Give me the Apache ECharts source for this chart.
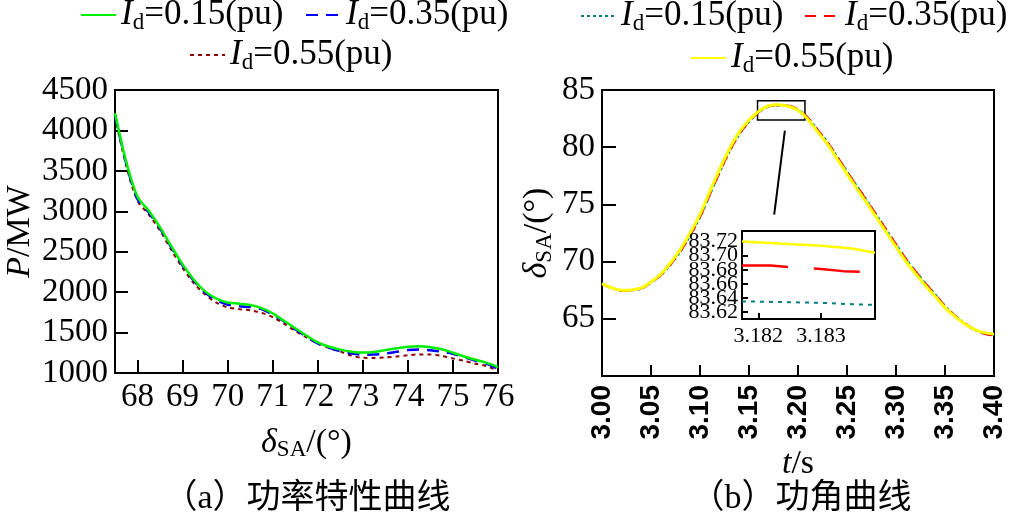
<!DOCTYPE html>
<html><head><meta charset="utf-8">
<script src="https://cdn.jsdelivr.net/npm/echarts@6/dist/echarts.min.js"></script>
<style>html,body{margin:0;padding:0;background:#fff}#c{width:1010px;height:519px}</style>
</head><body><div id="c"></div>
<script>
// ---------- (a) power characteristic ----------
const deltaSA = [67.5, 67.75, 68, 68.25, 68.5, 68.75, 69, 69.25, 69.5, 69.75, 70, 70.25, 70.5, 70.75, 71, 71.25, 71.5, 71.75, 72, 72.25, 72.5, 72.75, 73, 73.25, 73.5, 73.75, 74, 74.25, 74.5, 74.75, 75, 75.25, 75.5, 75.75, 76];
const P015 = [4214, 3610, 3179, 3008, 2802, 2569, 2343, 2154, 2010, 1920, 1873, 1857, 1840, 1803, 1738, 1646, 1554, 1463, 1378, 1324, 1289, 1264, 1252, 1260, 1283, 1306, 1326, 1331, 1318, 1293, 1251, 1204, 1163, 1125, 1074];
const P035 = [4190, 3590, 3150, 2985, 2785, 2555, 2330, 2140, 1995, 1900, 1845, 1825, 1815, 1790, 1720, 1640, 1540, 1450, 1365, 1310, 1270, 1240, 1226, 1228, 1240, 1262, 1283, 1290, 1282, 1262, 1238, 1195, 1150, 1113, 1053];
const P055 = [4170, 3560, 3130, 2960, 2760, 2520, 2300, 2110, 1970, 1870, 1810, 1790, 1775, 1745, 1690, 1610, 1520, 1440, 1370, 1310, 1265, 1215, 1188, 1185, 1192, 1205, 1220, 1230, 1230, 1210, 1180, 1150, 1115, 1085, 1030];
const deltaTicks = [68, 69, 70, 71, 72, 73, 74, 75, 76];

// ---------- (b) power angle ----------
const tSec = [3.00, 3.01, 3.02, 3.03, 3.04, 3.05, 3.06, 3.07, 3.08, 3.09, 3.10, 3.11, 3.12, 3.13, 3.14, 3.15, 3.16, 3.17, 3.18, 3.19, 3.20, 3.21, 3.22, 3.23, 3.24, 3.25, 3.26, 3.27, 3.28, 3.29, 3.30, 3.31, 3.32, 3.33, 3.34, 3.35, 3.36, 3.37, 3.38, 3.39, 3.40];
const D015 = [68.06, 67.70, 67.47, 67.50, 67.65, 68.17, 68.81, 69.76, 70.90, 72.30, 73.89, 75.87, 77.82, 79.63, 81.13, 82.24, 83.05, 83.55, 83.65, 83.59, 83.29, 82.56, 81.51, 80.43, 79.16, 77.87, 76.59, 75.35, 74.07, 72.78, 71.50, 70.23, 69.13, 68.09, 67.11, 66.11, 65.29, 64.61, 64.06, 63.72, 63.58];
const D035 = [68.06, 67.70, 67.47, 67.50, 67.66, 68.18, 68.82, 69.78, 70.92, 72.33, 73.92, 75.90, 77.85, 79.66, 81.16, 82.27, 83.08, 83.58, 83.69, 83.62, 83.30, 82.56, 81.50, 80.42, 79.14, 77.85, 76.57, 75.33, 74.05, 72.76, 71.48, 70.22, 69.12, 68.08, 67.10, 66.10, 65.28, 64.60, 64.05, 63.71, 63.57];
const D055 = [68.08, 67.71, 67.49, 67.52, 67.70, 68.23, 68.91, 69.90, 71.07, 72.51, 74.13, 76.12, 78.06, 79.84, 81.31, 82.37, 83.14, 83.62, 83.72, 83.58, 83.22, 82.44, 81.35, 80.26, 78.97, 77.67, 76.39, 75.15, 73.86, 72.57, 71.29, 70.03, 68.94, 67.92, 66.96, 65.98, 65.21, 64.57, 64.07, 63.79, 63.66];
const tTicks = [3.00, 3.05, 3.10, 3.15, 3.20, 3.25, 3.30, 3.35, 3.40];
const dTicks = [65, 70, 75, 80, 85];

// ---------- inset (zoom of the peak) ----------
const tZoom = [3.18174, 3.1824, 3.1830, 3.1835, 3.18386];
const Z015 = [83.635, 83.634, 83.633, 83.631, 83.630];
const Z055 = [83.720, 83.717, 83.714, 83.710, 83.704];
const tZoomRed = [3.18174, 3.1822, 3.1826, 3.1830, 3.18335, 3.18386];
const Z035 = [83.686, 83.686, 83.683, 83.681, 83.678, 83.676];
const zoomTTicks = [3.182, 3.183];
const zoomDTicksA = [83.62, 83.66, 83.70];
const zoomDTicksB = [83.64, 83.68, 83.72];
const zoomBox = [[3.1587, 84.06], [3.2071, 82.38]];
const zoomLink = [[3.1866, 81.44], [3.1757, 74.10]];

const idLabels = ['0.15', '0.35', '0.55'];

const SERIF = 'Liberation Serif';
const pair = (xs, ys) => xs.map((x, i) => [x, ys[i]]);

const legRich = {
  i: {fontFamily: SERIF, fontStyle: 'italic', fontSize: 35, lineHeight: 38, color: '#000'},
  s: {fontFamily: SERIF, fontSize: 23, lineHeight: 23, padding: [23, 0, 0, 0], verticalAlign: 'bottom', color: '#000'},
  t: {fontFamily: SERIF, fontSize: 35, lineHeight: 38, color: '#000'}
};
function legFmt(name) { return '{i|I}{s|d}{t|=' + idLabels[+name[1]] + '(pu)}'; }
function mkLegend(name, left, top) {
  return {data: [name], left: left, top: top, padding: 0, itemWidth: 35, itemHeight: 14, itemGap: 0,
    selectedMode: false, formatter: legFmt, textStyle: {rich: legRich},
    itemStyle: {opacity: 0, borderWidth: 0}};
}
const nameRich = {
  d: {fontFamily: SERIF, fontStyle: 'italic', fontSize: 34, lineHeight: 38, color: '#000'},
  i: {fontFamily: SERIF, fontStyle: 'italic', fontSize: 34, lineHeight: 38, color: '#000'},
  s: {fontFamily: SERIF, fontSize: 23, lineHeight: 23, padding: [20, 0, 0, 0], verticalAlign: 'bottom', color: '#000'},
  n: {fontFamily: SERIF, fontSize: 34, lineHeight: 38, color: '#000'}
};
const axLine = {show: true, onZero: false, lineStyle: {color: '#000', width: 2}};
function insetY(ticks, showLine) {
  return {gridIndex: 2, type: 'value', position: 'left', min: 83.61, max: 83.735, z: 5,
    axisLine: showLine ? axLine : {show: false}, splitLine: {show: false},
    axisTick: {inside: true, length: 6, lineStyle: {color: '#000', width: 2}, customValues: ticks},
    axisLabel: {customValues: ticks, showMinLabel: true, showMaxLabel: true, hideOverlap: false,
      fontSize: 22, color: '#000', fontFamily: SERIF, margin: 4, formatter: v => v.toFixed(2)}};
}

const option = {
  backgroundColor: '#fff',
  animation: false,
  textStyle: {fontFamily: SERIF},
  legend: [
    mkLegend('a0', 80, -12), mkLegend('a1', 305, -12), mkLegend('a2', 189, 28),
    mkLegend('b0', 580, -11), mkLegend('b1', 804, -11), mkLegend('b2', 690, 31)
  ],
  grid: [
    {left: 115, top: 90, width: 383, height: 283, show: true, borderColor: '#000', borderWidth: 2, backgroundColor: '#fff'},
    {left: 602, top: 90, width: 392, height: 286, show: true, borderColor: '#000', borderWidth: 2, backgroundColor: '#fff'},
    {left: 742, top: 231, width: 133, height: 88, show: true, borderColor: '#000', borderWidth: 2, backgroundColor: '#fff', z: 5}
  ],
  xAxis: [
    {gridIndex: 0, type: 'value', min: 67.5, max: 76, axisLine: axLine, splitLine: {show: false},
      axisTick: {inside: true, length: 13, lineStyle: {color: '#000', width: 2}, customValues: deltaTicks},
      axisLabel: {customValues: deltaTicks, fontSize: 33, color: '#000', fontFamily: SERIF, margin: 8},
      name: '{d|δ}{s|SA}{n|/(°)}', nameLocation: 'middle', nameGap: 48, nameTextStyle: {rich: nameRich}},
    {gridIndex: 1, type: 'value', min: 3.0, max: 3.4, axisLine: axLine, splitLine: {show: false},
      axisTick: {inside: true, length: 11, lineStyle: {color: '#000', width: 2}, customValues: tTicks},
      axisLabel: {customValues: tTicks, rotate: 90, fontSize: 28, fontWeight: 'bold', color: '#000', fontFamily: 'Liberation Sans', margin: 9,
        formatter: v => v.toFixed(2)},
      name: '{i|t}{n|/s}', nameLocation: 'middle', nameGap: 62, nameTextStyle: {rich: nameRich}},
    {gridIndex: 2, type: 'value', min: 3.18174, max: 3.18386, axisLine: axLine, splitLine: {show: false}, z: 5,
      axisTick: {inside: true, length: 6, lineStyle: {color: '#000', width: 2}, customValues: zoomTTicks},
      axisLabel: {customValues: zoomTTicks, fontSize: 22, color: '#000', fontFamily: SERIF, margin: 6,
        formatter: v => v.toFixed(3)}}
  ],
  yAxis: [
    {gridIndex: 0, type: 'value', min: 1000, max: 4500, interval: 500, axisLine: axLine, splitLine: {show: false},
      axisTick: {inside: true, length: 13, lineStyle: {color: '#000', width: 2}},
      axisLabel: {fontSize: 33, color: '#000', fontFamily: SERIF, margin: 7, formatter: v => String(v)},
      name: '{i|P}{n|/MW}', nameLocation: 'middle', nameGap: 76, nameTextStyle: {rich: nameRich}},
    {gridIndex: 1, type: 'value', min: 60, max: 85, axisLine: axLine, splitLine: {show: false},
      axisTick: {inside: true, length: 14, lineStyle: {color: '#000', width: 2}, customValues: dTicks},
      axisLabel: {customValues: dTicks, fontSize: 33, color: '#000', fontFamily: SERIF, margin: 7},
      name: '{d|δ}{s|SA}{n|/(°)}', nameLocation: 'middle', nameGap: 46, nameTextStyle: {rich: nameRich}},
    insetY(zoomDTicksA, true),
    insetY(zoomDTicksB, false)
  ],
  series: [
    {name: 'a0', type: 'line', xAxisIndex: 0, yAxisIndex: 0, data: pair(deltaSA, P015), smooth: 0.3, symbol: 'none', z: 4,
      color: '#00ee00', lineStyle: {color: '#00ee00', width: 2.5}},
    {name: 'a1', type: 'line', xAxisIndex: 0, yAxisIndex: 0, data: pair(deltaSA, P035), smooth: 0.3, symbol: 'none', z: 3,
      color: '#0000ff', lineStyle: {color: '#0000ff', width: 2.5, type: [12, 8]}},
    {name: 'a2', type: 'line', xAxisIndex: 0, yAxisIndex: 0, data: pair(deltaSA, P055), smooth: 0.3, symbol: 'none', z: 2,
      color: '#8b0000', lineStyle: {color: '#8b0000', width: 2, type: [4, 4]}},
    {name: 'b0', type: 'line', xAxisIndex: 1, yAxisIndex: 1, data: pair(tSec, D015), smooth: 0.3, symbol: 'none', z: 2,
      color: '#008080', lineStyle: {color: '#008080', width: 2.5, type: [3, 3]}},
    {name: 'b1', type: 'line', xAxisIndex: 1, yAxisIndex: 1, data: pair(tSec, D035), smooth: 0.3, symbol: 'none', z: 3,
      color: '#ff0000', lineStyle: {color: '#ff0000', width: 2.5, type: [11, 8]}},
    {name: 'b2', type: 'line', xAxisIndex: 1, yAxisIndex: 1, data: pair(tSec, D055), smooth: 0.3, symbol: 'none', z: 4,
      color: '#ffff00', lineStyle: {color: '#ffff00', width: 3},
      markArea: {silent: true, itemStyle: {color: 'rgba(0,0,0,0)', borderColor: '#000', borderWidth: 1.5},
        data: [[{coord: zoomBox[0]}, {coord: zoomBox[1]}]]},
      markLine: {silent: true, symbol: ['none', 'none'], label: {show: false},
        lineStyle: {color: '#000', width: 2, type: 'solid'},
        data: [[{coord: zoomLink[0]}, {coord: zoomLink[1]}]]}},
    {name: 'z0', type: 'line', xAxisIndex: 2, yAxisIndex: 2, data: pair(tZoom, Z015), symbol: 'none', z: 6,
      lineStyle: {color: '#008080', width: 2, type: [4, 5]}},
    {name: 'z1', type: 'line', xAxisIndex: 2, yAxisIndex: 2, data: pair(tZoomRed, Z035), symbol: 'none', z: 6,
      lineStyle: {color: '#ff0000', width: 2.5, type: [46, 26]}},
    {name: 'z2', type: 'line', xAxisIndex: 2, yAxisIndex: 2, data: pair(tZoom, Z055), symbol: 'none', z: 6,
      lineStyle: {color: '#ffff00', width: 2.5}}
  ],
  graphic: [
    {type: 'text', x: 307, y: 499, style: {text: '（a）功率特性曲线', fontSize: 34, fontFamily: '"Liberation Serif", "Noto Sans CJK SC"', fill: '#000', align: 'center', verticalAlign: 'middle'}},
    {type: 'text', x: 801, y: 499, style: {text: '（b）功角曲线', fontSize: 34, fontFamily: '"Liberation Serif", "Noto Sans CJK SC"', fill: '#000', align: 'center', verticalAlign: 'middle'}}
  ]
};
const chart = echarts.init(document.getElementById('c'), null, {renderer: 'canvas'});
chart.setOption(option);
</script></body></html>
